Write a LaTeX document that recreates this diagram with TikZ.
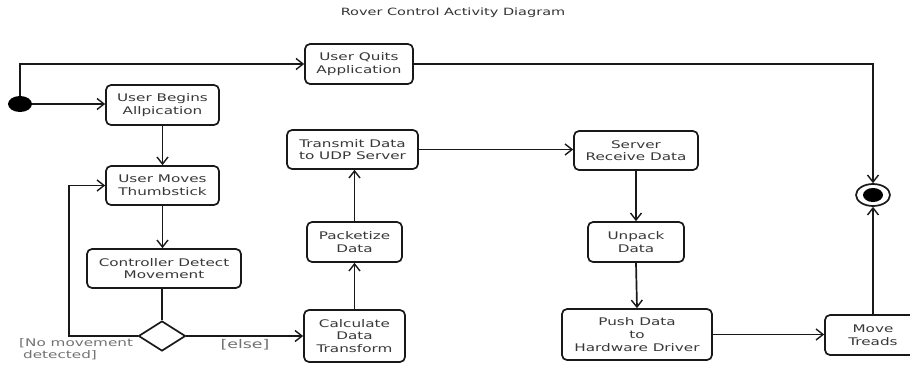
\documentclass[tikz,border=0pt]{standalone}
\usepackage{fontspec}
\setmainfont[FakeStretch=1.45]{DejaVu Sans}
\usetikzlibrary{shapes.geometric,arrows.meta}
\tikzset{
  act/.style={draw=black!90, line width=1.7pt, rounded corners=5pt, fill=white,
    align=center, inner sep=0pt, font=\fontsize{10.5}{12.6}\selectfont, text=black!78},
  flow/.style={draw=black!90, line width=1.7pt, -{Straight Barb[length=7pt,width=11pt,line width=1.4pt]}},
  plain/.style={draw=black!90, line width=1.7pt},
  guard/.style={text=black!55, align=left, inner sep=0pt},
}
\begin{document}
\begin{tikzpicture}[x=1pt,y=-1pt]
\useasboundingbox (0,0) rectangle (910,364);
\fill[white] (0,0) rectangle (910,364);

% title
\node[font=\fontsize{10}{12}\selectfont, text=black!80] (title) at (453,13) {Rover Control Activity Diagram};

% start and end
\node[ellipse, fill=black, minimum width=24pt, minimum height=16pt, inner sep=0pt] (init) at (20,104) {};
\node[ellipse, draw=black!90, line width=1.7pt, fill=white, minimum width=34pt, minimum height=22pt, inner sep=0pt] (final) at (873,195) {};
\fill[black] (final.center) ellipse (10pt and 7pt);

% actions
\node[act, minimum width=108pt, minimum height=40pt] (quits) at (359,64) {User Quits\\Application};
\node[act, minimum width=113pt, minimum height=40pt] (begins) at (162.5,105) {User Begins\\Allpication};
\node[act, minimum width=113pt, minimum height=39pt] (moves) at (162.5,185.5) {User Moves\\Thumbstick};
\node[act, minimum width=154pt, minimum height=39pt] (detect) at (164,268.5) {Controller Detect\\Movement};
\node[diamond, draw=black!90, line width=1.7pt, fill=white, minimum width=47pt, minimum height=30pt, inner sep=0pt] (dec) at (162,336) {};
\node[act, minimum width=131pt, minimum height=39pt] (transmit) at (352.5,149.5) {Transmit Data\\to UDP Server};
\node[act, minimum width=95pt, minimum height=40pt] (packet) at (354.5,242) {Packetize\\Data};
\node[act, minimum width=101pt, minimum height=52pt] (calc) at (354.5,336) {Calculate\\Data\\Transform};
\node[act, minimum width=124pt, minimum height=39pt] (server) at (636,150.5) {Server\\Receive Data};
\node[act, minimum width=96pt, minimum height=40pt] (unpack) at (636,242) {Unpack\\Data};
\node[act, minimum width=150pt, minimum height=51pt] (push) at (637,334.5) {Push Data\\to\\Hardware Driver};
\node[act, minimum width=96pt, minimum height=40pt] (treads) at (873,335) {Move\\Treads};

% guards
\node[guard, font=\fontsize{12}{14}\selectfont] (elseg) at (245,345) {[else]};
\node[guard, font=\fontsize{10.5}{12}\selectfont, anchor=west] (nomove) at (19,349) {[No movement\\\hspace*{4pt}detected]};

% flows
\draw[flow] (init.north) |- (quits.west);
\draw[flow] (init.east) -- (init.east -| begins.west);
\draw[flow] (quits.east) -| (final.north);
\draw[flow] (begins.south) -- (moves.north);
\draw[flow] (moves.south) -- (moves.south |- detect.north);
\draw[plain] (detect.south -| dec.north) -- (dec.north);
\coordinate (loopc) at (69,336);
\draw[flow] (dec.west) -- (loopc) |- (moves.west);
\draw[flow] (dec.east) -- (calc.west);
\draw[flow] (calc.north) -- (packet.south);
\draw[flow] (packet.north) -- (packet.north |- transmit.south);
\draw[flow] (transmit.east) -- (transmit.east -| server.west);
\draw[flow] (server.south) -- (unpack.north);
\draw[flow] (unpack.south) -- (push.north);
\draw[flow] (push.east) -- (push.east -| treads.west);
\draw[flow] (treads.north) -- (final.south);
\end{tikzpicture}
\end{document}
